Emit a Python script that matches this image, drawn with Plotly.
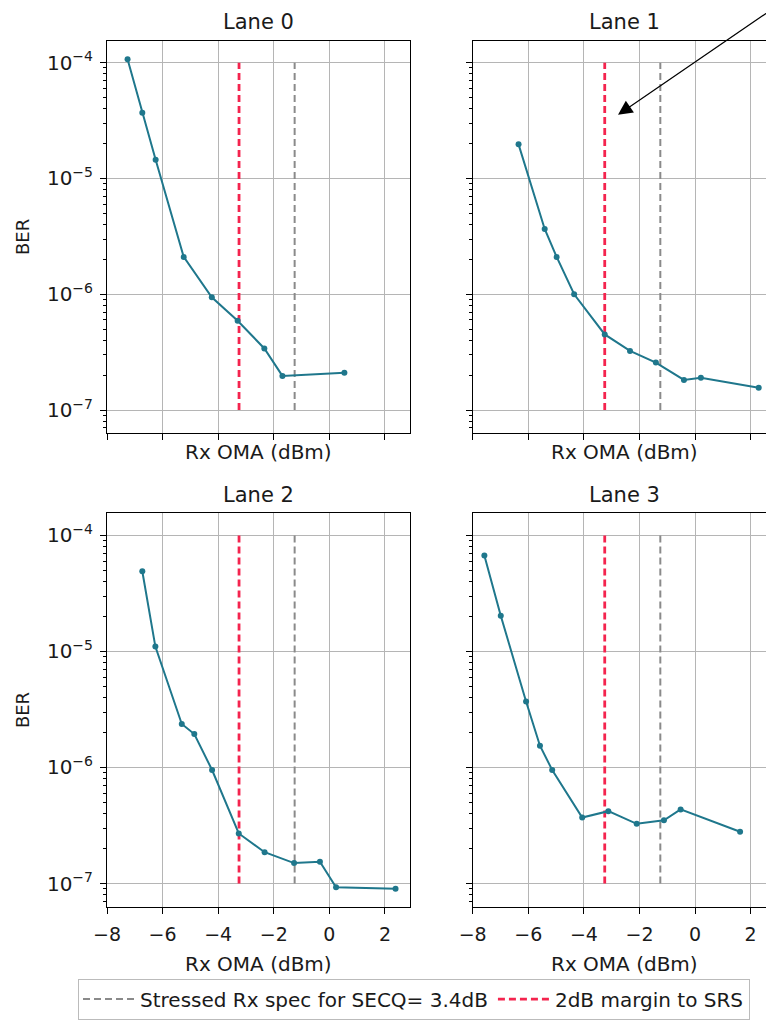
import plotly.graph_objects as go
from plotly.subplots import make_subplots

# ---------------- data ----------------
lane_names = ["Lane 0", "Lane 1", "Lane 2", "Lane 3"]
lane0_x = [-7.26, -6.73, -6.25, -5.24, -4.23, -3.30, -2.34, -1.69, 0.54]
lane0_y = [1.07e-4, 3.7e-5, 1.45e-5, 2.1e-6, 9.4e-7, 5.9e-7, 3.4e-7, 1.97e-7, 2.1e-7]
lane1_x = [-6.35, -5.41, -4.98, -4.35, -3.25, -2.34, -1.41, -0.40, 0.21, 2.29]
lane1_y = [1.97e-5, 3.66e-6, 2.1e-6, 1.0e-6, 4.5e-7, 3.24e-7, 2.57e-7, 1.82e-7, 1.9e-7, 1.56e-7]
lane2_x = [-6.73, -6.26, -5.31, -4.86, -4.22, -3.26, -2.33, -1.27, -0.34, 0.24, 2.38]
lane2_y = [4.9e-5, 1.1e-5, 2.37e-6, 1.94e-6, 9.5e-7, 2.7e-7, 1.86e-7, 1.5e-7, 1.54e-7, 9.3e-8, 9.0e-8]
lane3_x = [-7.58, -6.99, -6.08, -5.58, -5.14, -4.06, -3.12, -2.10, -1.12, -0.52, 1.62]
lane3_y = [6.7e-5, 2.03e-5, 3.7e-6, 1.54e-6, 9.5e-7, 3.7e-7, 4.2e-7, 3.27e-7, 3.5e-7, 4.35e-7, 2.79e-7]

spec_x = -1.25      # Stressed Rx spec for SECQ = 3.4dB
margin_x = -3.25    # 2dB margin to SRS
vline_y = [1e-7, 1e-4]
spec_label = "Stressed Rx spec for SECQ= 3.4dB"
margin_label = "2dB margin to SRS"

x_ticks = [-8, -6, -4, -2, 0, 2]
x_ticktext = ["\u22128", "\u22126", "\u22124", "\u22122", "0", "2"]
y_ticks = [1e-7, 1e-6, 1e-5, 1e-4]
y_ticktext = ["10<sup>\u22127</sup>", "10<sup>\u22126</sup>", "10<sup>\u22125</sup>", "10<sup>\u22124</sup>"]
minor_vals = [m * 10.0 ** e for e in range(-8, -3) for m in range(2, 10)]

lanes = [(lane0_x, lane0_y), (lane1_x, lane1_y), (lane2_x, lane2_y), (lane3_x, lane3_y)]

# ---------------- layout geometry ----------------
# the page body has an 8px default margin: the figure is offset by (8, 8)
OFF = 8
PAGE_W = 774
W, H = PAGE_W - OFF, 1020 - OFF
FONT = "DejaVu Sans"
LINE_COLOR = "#1f778c"
RED = "#f4244e"
GRAY = "#8a8a8a"
TXT = "#1a1a1a"


def fx(p):  # page x pixel -> paper fraction
    return (p - OFF) / W


def fy(p):  # page y pixel -> paper fraction (from bottom)
    return 1 - (p - OFF) / H


px_l = [(107, 410), (472.7, 774)]
px_t = [(41, 434), (514.5, 908.5)]
xranges = [[-8, 2.9], [-8, 2.84]]
yrange = [-7.2, -3.812]

fig = make_subplots(rows=2, cols=2)

for i, (xs, ys) in enumerate(lanes):
    r, c = i // 2 + 1, i % 2 + 1
    showleg = (i == 0)
    fig.add_trace(go.Scatter(x=[spec_x, spec_x], y=vline_y, mode="lines",
                             line=dict(color=GRAY, width=2, dash="7px,4px"),
                             name=spec_label, legendgroup="spec", showlegend=showleg),
                  row=r, col=c)
    fig.add_trace(go.Scatter(x=[margin_x, margin_x], y=vline_y, mode="lines",
                             line=dict(color=RED, width=2.8, dash="7px,4px"),
                             name=margin_label, legendgroup="margin", showlegend=showleg),
                  row=r, col=c)
    fig.add_trace(go.Scatter(x=xs, y=ys, mode="lines+markers",
                             line=dict(color=LINE_COLOR, width=2),
                             marker=dict(color=LINE_COLOR, size=6),
                             showlegend=False),
                  row=r, col=c)

annotations = []
for i in range(4):
    r, c = i // 2, i % 2
    xn = "xaxis" if i == 0 else f"xaxis{i+1}"
    yn = "yaxis" if i == 0 else f"yaxis{i+1}"
    x0, x1 = px_l[c]
    t0, t1 = px_t[r]
    bottom = (r == 1)
    fig.layout[xn].update(
        domain=[fx(x0), min(1.0, fx(x1))], range=xranges[c], tickvals=x_ticks,
        ticktext=x_ticktext, showticklabels=bottom, ticks="outside", ticklen=6,
        tickcolor="#000", linecolor="#000", linewidth=1, showline=True, mirror=True,
        showgrid=True, gridcolor="#b5b5b5", gridwidth=1, zeroline=False, automargin=False,
        tickfont=dict(family=FONT, size=19, color=TXT), ticklabelstandoff=4)
    fig.layout[yn].update(
        domain=[fy(t1), fy(t0)], type="log", range=yrange,
        tickvals=y_ticks, ticktext=y_ticktext, showticklabels=(c == 0),
        ticks="outside", ticklen=6, tickcolor="#000",
        minor=dict(tickvals=minor_vals, ticks="outside", ticklen=3, tickcolor="#000", showgrid=False),
        linecolor="#000", linewidth=1, showline=True, mirror=(c == 0),
        showgrid=True, gridcolor="#b5b5b5", gridwidth=1, zeroline=False, automargin=False,
        tickfont=dict(family=FONT, size=20, color=TXT), ticklabelstandoff=3)
    cx = (x0 + (x1 if c == 0 else 776)) / 2
    annotations.append(dict(text=lane_names[i], x=fx(cx), y=fy(t0 - 19),
                            xref="paper", yref="paper", showarrow=False,
                            xanchor="center", yanchor="middle",
                            font=dict(family=FONT, size=21, color=TXT)))
    ty = t1 + 19 if not bottom else t1 + 57
    annotations.append(dict(text="Rx OMA (dBm)", x=fx(cx), y=fy(ty),
                            xref="paper", yref="paper", showarrow=False,
                            xanchor="center", yanchor="middle",
                            font=dict(family=FONT, size=20, color=TXT)))
    if c == 0:
        annotations.append(dict(text="BER", x=fx(22), y=fy((t0 + t1) / 2),
                                xref="paper", yref="paper", showarrow=False,
                                textangle=-90, xanchor="center", yanchor="middle",
                                font=dict(family=FONT, size=18, color=TXT)))

# arrow pointing at the red line in Lane 1
annotations.append(dict(text="", x=fx(618), y=fy(115), xref="paper", yref="paper",
                        showarrow=True, arrowhead=2, arrowsize=2.4, arrowwidth=1.2,
                        arrowcolor="#000", ax=200, ay=-111, axref="pixel", ayref="pixel"))

fig.update_layout(
    width=W, height=H, margin=dict(l=0, r=0, t=0, b=0),
    paper_bgcolor="white", plot_bgcolor="white",
    annotations=annotations,
    font=dict(family=FONT, size=14, color=TXT),
    legend=dict(orientation="h", x=fx(414), y=fy(1001), xanchor="center", yanchor="middle",
                bordercolor="#bbbbbb", borderwidth=1, bgcolor="white",
                font=dict(family=FONT, size=20, color=TXT), itemwidth=52),
)

fig.write_html("out.html")
